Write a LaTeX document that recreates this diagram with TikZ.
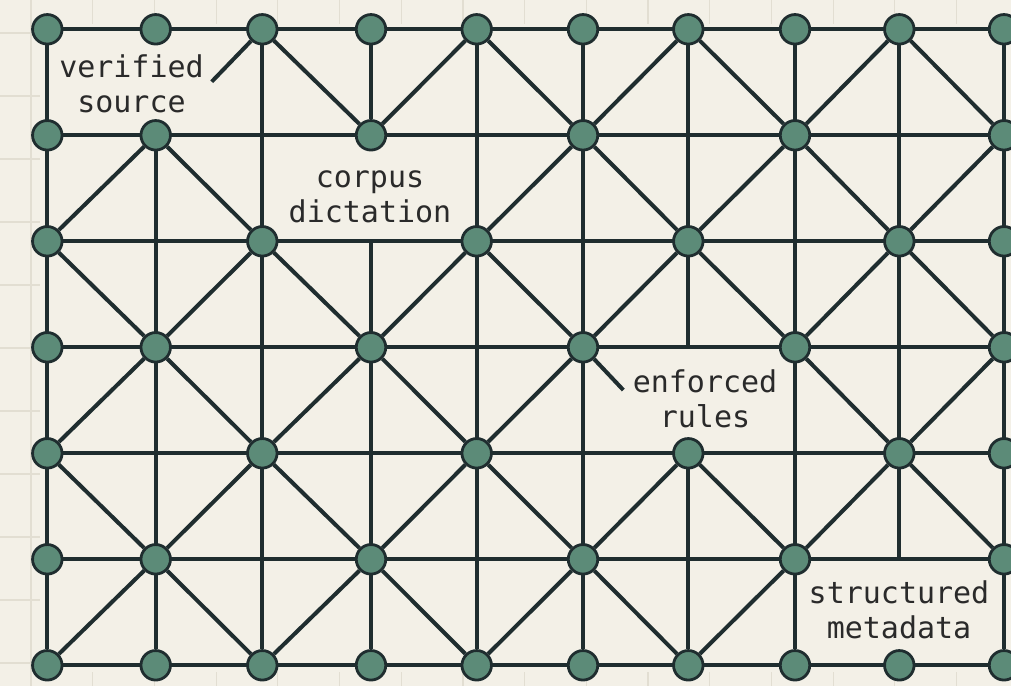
\documentclass[tikz,border=0pt]{standalone}
\usepackage{fontspec}
\newfontfamily\labelfont{DejaVu Sans Mono}
\definecolor{paper}{HTML}{F3F0E7}
\definecolor{gridln}{HTML}{E2DED2}
\definecolor{ink}{HTML}{1F2D2F}
\definecolor{nodefill}{HTML}{5C8B78}
\definecolor{txt}{HTML}{2A2A2A}
\pgfdeclarelayer{paperlayer}
\pgfdeclarelayer{edgelayer}
\pgfsetlayers{paperlayer,edgelayer,main}
\begin{document}
\begin{tikzpicture}[x=1pt,y=-1pt,
  dot/.style={circle, draw=ink, line width=2.8pt, fill=nodefill, minimum size=29.5pt, inner sep=0pt},
  edge/.style={draw=ink, line width=4pt},
  lbl/.style={font=\labelfont\fontsize{30}{34.5}\selectfont, text=txt, align=center, inner sep=0pt},
]
\useasboundingbox (0,0) rectangle (1011,686);
% graph paper background
\begin{pgfonlayer}{paperlayer}
  \fill[paper] (0,0) rectangle (1011,686);
  \foreach \k in {0,...,16} \draw[gridln, line width=1.2pt] ({31+61.7*\k},0) -- ({31+61.7*\k},686);
  \foreach \k in {0,...,10} \draw[gridln, line width=1.2pt] (0,{33+63*\k}) -- (1011,{33+63*\k});
  \fill[paper] (40,24) rectangle (1011,672);
\end{pgfonlayer}
% lattice points
\foreach \xx [count=\i from 0] in {47.3,155.7,262.3,371,476.7,583,688.3,795,899.3,1004}
  \foreach \j in {0,...,6}
    \coordinate (p-\i-\j) at (\xx,{29.3+106*\j});
% nodes
\foreach \j in {0,6} \foreach \i in {0,...,9} \node[dot] (n-\i-\j) at (p-\i-\j) {};
\foreach \j in {1,3,5} \foreach \i in {0,1,3,5,7,9} \node[dot] (n-\i-\j) at (p-\i-\j) {};
\foreach \j in {2,4} \foreach \i in {0,2,4,6,8,9} \node[dot] (n-\i-\j) at (p-\i-\j) {};
% labels (anchor=base is the baseline of the last line)
\node[lbl, anchor=base] (vs) at (131.5,112) {verified\\source};
\node[lbl, anchor=base] (cd) at (370,222) {corpus\\dictation};
\node[lbl, anchor=base] (er) at (705,427) {enforced\\rules};
\node[lbl, anchor=base] (sm) at (899,638) {structured\\metadata};
\coordinate (vsl) at (211.7,81.7);
\coordinate (erl) at (623.3,390);
% connectors
\begin{pgfonlayer}{edgelayer}
  \foreach \j in {0,...,6} \draw[edge] (n-0-\j) -- (n-9-\j);
  \foreach \i in {0,2,4,5,7,9} \draw[edge] (n-\i-0) -- (n-\i-6);
  \draw[edge] (n-1-1) -- (n-1-6);
  \draw[edge] (n-3-0) -- (n-3-1);
  \draw[edge] (p-3-2) -- (n-3-6);
  \draw[edge] (n-6-0) -- (p-6-3);
  \draw[edge] (n-6-4) -- (n-6-6);
  \draw[edge] (n-8-0) -- (p-8-5);
  \foreach \a/\b in {2-0/3-1, 4-0/3-1, 4-0/5-1, 6-0/5-1, 6-0/7-1, 8-0/7-1, 8-0/9-1,
                     1-1/0-2, 1-1/2-2, 5-1/4-2, 5-1/6-2, 7-1/6-2, 7-1/8-2, 9-1/8-2,
                     0-2/1-3, 2-2/1-3, 2-2/3-3, 4-2/3-3, 4-2/5-3, 6-2/5-3, 6-2/7-3, 8-2/7-3, 8-2/9-3,
                     1-3/0-4, 1-3/2-4, 3-3/2-4, 3-3/4-4, 5-3/4-4, 7-3/8-4, 9-3/8-4,
                     0-4/1-5, 2-4/1-5, 2-4/3-5, 4-4/3-5, 4-4/5-5, 6-4/5-5, 6-4/7-5, 8-4/7-5, 8-4/9-5,
                     1-5/0-6, 1-5/2-6, 3-5/2-6, 3-5/4-6, 5-5/4-6, 5-5/6-6, 7-5/6-6}
    \draw[edge] (n-\a) -- (n-\b);
  \draw[edge] (n-2-0) -- (vsl);
  \draw[edge] (n-5-3) -- (erl);
\end{pgfonlayer}
\end{tikzpicture}
\end{document}
